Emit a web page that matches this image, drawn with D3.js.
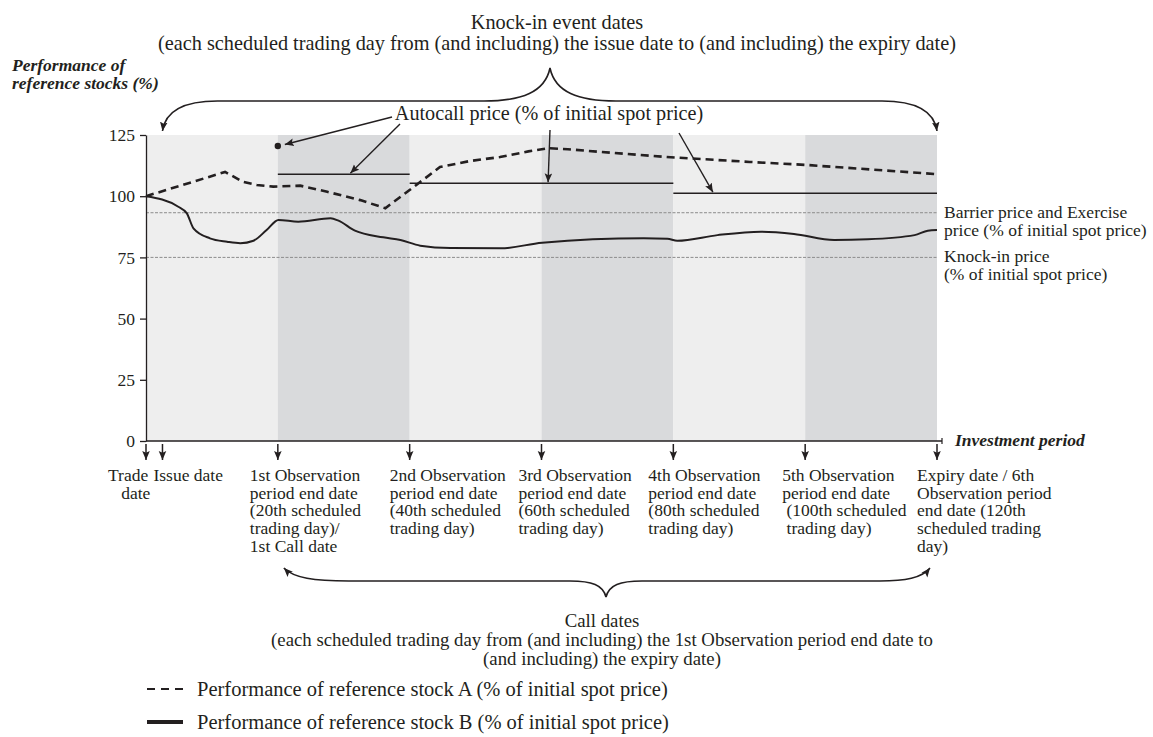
<!DOCTYPE html>
<html><head><meta charset="utf-8">
<script src="https://cdn.jsdelivr.net/npm/d3@7/dist/d3.min.js"></script>
<style>
body{margin:0;background:#fff}
svg{display:block}
text{font-family:"Liberation Serif","Times New Roman",serif;fill:#231f20;white-space:pre}
</style>
</head><body>
<svg id="chart" width="1153" height="737"></svg>
<script>
// ---------------- data ----------------
const yTicks = [0, 25, 50, 75, 100, 125];
const periodEnds = [0, 20, 40, 60, 80, 100, 120];          // scheduled trading days
const periodShade = ["light", "dark", "light", "dark", "light", "dark"];
const stockADays   = [0, 12, 14.7, 16.8, 19.3, 23.4, 27.5, 32.5, 36.3, 41.3, 44.6, 49.2, 53.7, 58, 61, 64, 68.9, 79, 91.6, 100, 120];
const stockAValues = [100, 109.9, 105.9, 104.6, 103.9, 104.3, 101.8, 98.4, 95.1, 105.2, 111.9, 114.4, 116, 118.3, 119.6, 119.2, 118.1, 116, 114, 112.8, 109];
const stockBDays   = [0, 4.9, 6.2, 7.2, 9.7, 12.3, 14.3, 16.3, 18.3, 20.1, 23.1, 28, 29.2, 31.7, 36, 38.6, 41.6, 46.2, 53.8, 60.1, 75.5, 79.1, 80.6, 86.7, 93.3, 98.3, 104.4, 109.5, 116.6, 118.6, 120];
const stockBValues = [100, 95.7, 93, 86.9, 82.8, 81.4, 80.8, 81.8, 86.2, 90.3, 89.6, 91, 90, 85.9, 83.2, 82.1, 79.8, 78.8, 78.7, 81, 82.8, 82.6, 81.8, 84.1, 85.5, 84.6, 82.1, 82.4, 84.1, 85.9, 86.2];
const autocallFrom   = [20, 40, 80];
const autocallTo     = [40, 80, 120];
const autocallValues = [109, 105.25, 101.25];
const autocallDotDay = 20, autocallDotValue = 120.5;
const barrierPrice = 93.25, knockInPrice = 75;
const dateDays = [0, 2.5, 20, 40, 60, 80, 100, 120];
const dateLabels = [
  ["Trade", "   date"],
  ["Issue date"],
  ["1st Observation", "period end date", "(20th scheduled", "trading day)/", "1st Call date"],
  ["2nd Observation", "period end date", "(40th scheduled", "trading day)"],
  ["3rd Observation", "period end date", "(60th scheduled", "trading day)"],
  ["4th Observation", "period end date", "(80th scheduled", "trading day)"],
  ["5th Observation", "period end date", " (100th scheduled", " trading day)"],
  ["Expiry date / 6th", "Observation period", "end date (120th", "scheduled trading", "day)"]
];
const topTitle = ["Knock-in event dates", "(each scheduled trading day from (and including) the issue date to (and including) the expiry date)"];
const callTitle = ["Call dates", "(each scheduled trading day from (and including) the 1st Observation period end date to", "(and including) the expiry date)"];
const yTitle = ["Performance of", "reference stocks (%)"];
const xTitle = "Investment period";
const autocallLabel = "Autocall price (% of initial spot price)";
const barrierLabel = ["Barrier price and Exercise", "price (% of initial spot price)"];
const knockInLabel = ["Knock-in price", "(% of initial spot price)"];
const legendLabels = ["Performance of reference stock A (% of initial spot price)", "Performance of reference stock B (% of initial spot price)"];

// ---------------- layout ----------------
const INK = "#231f20";
const svg = d3.select("#chart");
const x = d3.scaleLinear().domain([0, 120]).range([146, 937]);
const y = d3.scaleLinear().domain([0, 125]).range([441, 135]);

const defs = svg.append("defs");
defs.append("marker").attr("id", "ah").attr("viewBox", "0 0 10 10")
  .attr("refX", 10).attr("refY", 5).attr("markerWidth", 9).attr("markerHeight", 9)
  .attr("markerUnits", "userSpaceOnUse").attr("orient", "auto-start-reverse")
  .append("path").attr("d", "M0,0.8 L10,5 L0,9.2 L2,5 z").attr("fill", INK);

// shaded periods
svg.append("g").selectAll("rect").data(periodShade).join("rect")
  .attr("x", (d, i) => x(periodEnds[i]))
  .attr("width", (d, i) => x(periodEnds[i + 1]) - x(periodEnds[i]))
  .attr("y", y(125)).attr("height", y(0) - y(125))
  .attr("fill", d => d === "dark" ? "#d9dadc" : "#eeeeee");

// barrier & knock-in reference lines
svg.append("g").selectAll("line").data([barrierPrice, knockInPrice]).join("line")
  .attr("x1", x(0)).attr("x2", x(120)).attr("y1", d => y(d)).attr("y2", d => y(d))
  .attr("stroke", "#8c8c8c").attr("stroke-width", 1).attr("stroke-dasharray", "3,1.5");

// autocall levels
svg.append("g").selectAll("line").data(autocallValues).join("line")
  .attr("x1", (d, i) => x(autocallFrom[i])).attr("x2", (d, i) => x(autocallTo[i]))
  .attr("y1", d => y(d)).attr("y2", d => y(d))
  .attr("stroke", INK).attr("stroke-width", 1.5);
svg.append("circle").attr("cx", x(autocallDotDay)).attr("cy", y(autocallDotValue)).attr("r", 3.2).attr("fill", INK);

// stock lines
const lineA = d3.line().x(d => x(d[0])).y(d => y(d[1])).curve(d3.curveLinear);
const lineB = d3.line().x(d => x(d[0])).y(d => y(d[1])).curve(d3.curveMonotoneX);
svg.append("path").datum(stockADays.map((d, i) => [d, stockAValues[i]]))
  .attr("d", lineA).attr("fill", "none").attr("stroke", INK)
  .attr("stroke-width", 2.6).attr("stroke-dasharray", "8,5");
svg.append("path").datum(stockBDays.map((d, i) => [d, stockBValues[i]]))
  .attr("d", lineB).attr("fill", "none").attr("stroke", INK).attr("stroke-width", 2);

// axes
const yAxis = svg.append("g").attr("transform", `translate(${x(0)},0)`)
  .call(d3.axisLeft(y).tickValues(yTicks).tickSize(6).tickSizeOuter(0).tickPadding(5));
yAxis.selectAll("path,line").attr("stroke", INK).attr("stroke-width", 1.3);
yAxis.selectAll("text").attr("font-family", "Liberation Serif").attr("font-size", 17.5).attr("fill", INK);
svg.append("line").attr("x1", x(0)).attr("x2", x(120) + 5).attr("y1", y(0)).attr("y2", y(0))
  .attr("stroke", INK).attr("stroke-width", 1.5);
svg.append("line").attr("x1", x(120) + 5).attr("x2", x(120) + 5).attr("y1", y(0) - 3).attr("y2", y(0) + 3)
  .attr("stroke", INK).attr("stroke-width", 1.2);

// date arrows under axis
svg.append("g").selectAll("line").data(dateDays).join("line")
  .attr("x1", d => x(d)).attr("x2", d => x(d)).attr("y1", y(0) + 3).attr("y2", y(0) + 19)
  .attr("stroke", INK).attr("stroke-width", 1.5).attr("marker-end", "url(#ah)");

// date labels
const labelDx = [-38, -9, -28, -20, -23, -25, -23, -20];
const lg = svg.append("g").attr("font-size", 17.5);
dateLabels.forEach((lines, i) => {
  const t = lg.append("text").attr("x", x(dateDays[i]) + labelDx[i]).attr("y", 481);
  lines.forEach((s, j) => t.append("tspan").attr("x", x(dateDays[i]) + labelDx[i]).attr("y", 481 + j * 17.7).text(s));
});

// axis titles
svg.append("text").attr("x", 12).attr("y", 71).attr("font-size", 17.5).attr("font-weight", "bold").attr("font-style", "italic").text(yTitle[0]);
svg.append("text").attr("x", 12).attr("y", 89).attr("font-size", 17.5).attr("font-weight", "bold").attr("font-style", "italic").text(yTitle[1]);
svg.append("text").attr("x", 955).attr("y", 446).attr("font-size", 17.5).attr("font-weight", "bold").attr("font-style", "italic").text(xTitle);

// right side labels
[[barrierLabel, 218], [knockInLabel, 262]].forEach(([lines, yy]) => {
  lines.forEach((s, j) => svg.append("text").attr("x", 944).attr("y", yy + j * 17.7).attr("font-size", 17.5).text(s));
});

// top title & brace
topTitle.forEach((s, j) => svg.append("text").attr("x", 557).attr("y", 29 + j * 21)
  .attr("text-anchor", "middle").attr("font-size", 20.3).text(s));
const xa = x(2.5), xb = x(120);
svg.append("path")
  .attr("d", `M${xa},131 C${xa + 3},110 ${xa + 23},101 ${xa + 55},101 L484,101 C522,101 545,92 550,68 C555,92 578,101 616,101 L${xb - 55},101 C${xb - 23},101 ${xb - 3},110 ${xb},131`)
  .attr("fill", "none").attr("stroke", INK).attr("stroke-width", 1.6)
  .attr("marker-start", "url(#ah)").attr("marker-end", "url(#ah)");

// autocall label & pointers
svg.append("text").attr("x", 549).attr("y", 120).attr("text-anchor", "middle").attr("font-size", 20.2).text(autocallLabel);
const pointers = [
  [392, 117, x(autocallDotDay) + 7, y(autocallDotValue) - 1.5],
  [400, 124, x(31), y(autocallValues[0]) - 1],
  [550, 130, x(61), y(autocallValues[1]) - 1],
  [679, 133, x(86), y(autocallValues[2]) - 1]
];
svg.append("g").selectAll("line").data(pointers).join("line")
  .attr("x1", d => d[0]).attr("y1", d => d[1]).attr("x2", d => d[2]).attr("y2", d => d[3])
  .attr("stroke", INK).attr("stroke-width", 1.4).attr("marker-end", "url(#ah)");

// lower brace & call dates title
const xc = x(20) + 6, xd = x(120) - 7;
svg.append("path")
  .attr("d", `M${xc},568 C${xc + 10},578 ${xc + 30},581 ${xc + 65},581 L570,581 C592,581 603,585 606,597 C609,585 620,581 642,581 L${xd - 50},581 C${xd - 25},581 ${xd - 8},578 ${xd},568`)
  .attr("fill", "none").attr("stroke", INK).attr("stroke-width", 1.6)
  .attr("marker-start", "url(#ah)").attr("marker-end", "url(#ah)");
callTitle.forEach((s, j) => svg.append("text").attr("x", 602).attr("y", 627 + j * 19)
  .attr("text-anchor", "middle").attr("font-size", 18.8).text(s));

// legend
const legY = [696, 729];
svg.append("line").attr("x1", 147).attr("x2", 183).attr("y1", legY[0] - 7).attr("y2", legY[0] - 7)
  .attr("stroke", INK).attr("stroke-width", 2).attr("stroke-dasharray", "8,6");
svg.append("line").attr("x1", 147).attr("x2", 183).attr("y1", legY[1] - 7).attr("y2", legY[1] - 7)
  .attr("stroke", INK).attr("stroke-width", 4);
legendLabels.forEach((s, j) => svg.append("text").attr("x", 197).attr("y", legY[j]).attr("font-size", 20.5).text(s));
</script>
</body></html>
